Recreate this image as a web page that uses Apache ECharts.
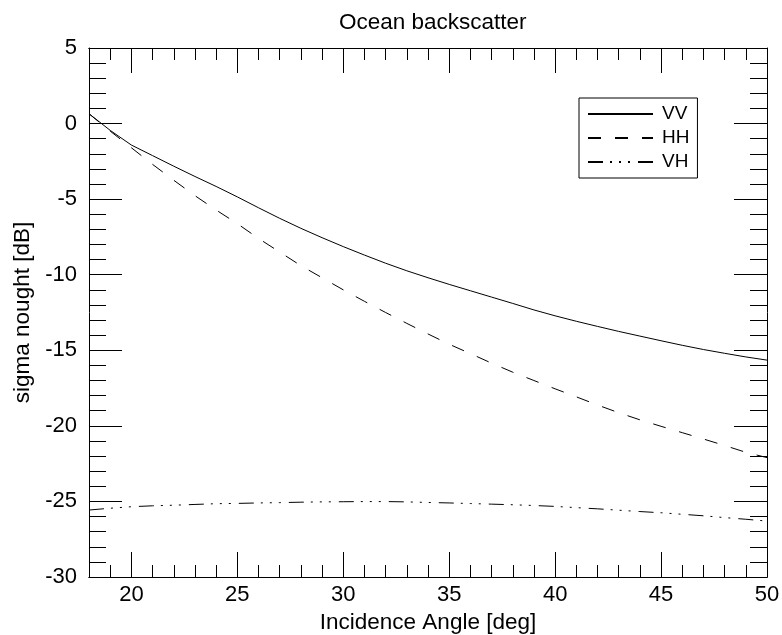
<!DOCTYPE html>
<html>
<head>
<meta charset="utf-8">
<script src="https://cdn.jsdelivr.net/npm/echarts@6/dist/echarts.min.js"></script>
<style>html,body{margin:0;padding:0;background:#fff}#c{width:782px;height:635px}</style>
</head>
<body>
<div id="c"></div>
<script>
const angles = [18,19,20,21,22,23,24,25,26,27,28,29,30,31,32,33,34,35,36,37,38,39,40,41,42,43,44,45,46,47,48,49,50];
const vv = [0.65,-0.45,-1.42,-2.12,-2.82,-3.5,-4.16,-4.85,-5.57,-6.27,-6.93,-7.55,-8.14,-8.7,-9.24,-9.74,-10.2,-10.64,-11.06,-11.48,-11.9,-12.33,-12.72,-13.08,-13.42,-13.75,-14.06,-14.37,-14.67,-14.95,-15.2,-15.44,-15.65];
const hh = [0.65,-0.5,-1.6,-2.7,-3.75,-4.77,-5.72,-6.62,-7.6,-8.5,-9.4,-10.2,-11.0,-11.76,-12.5,-13.22,-13.92,-14.6,-15.22,-15.85,-16.45,-17.0,-17.55,-18.08,-18.62,-19.13,-19.6,-20.03,-20.45,-20.87,-21.3,-21.75,-22.1];
const vh = [-25.57,-25.45,-25.35,-25.29,-25.25,-25.2,-25.15,-25.13,-25.1,-25.08,-25.05,-25.03,-25.02,-25.01,-25.01,-25.03,-25.07,-25.1,-25.14,-25.18,-25.22,-25.27,-25.33,-25.41,-25.49,-25.58,-25.67,-25.75,-25.85,-25.95,-26.07,-26.18,-26.3];
const xMajorTicks = [20,25,30,35,40,45,50];
const seriesNames = ['VV','HH','VH'];
const titleText = 'Ocean backscatter';
const xName = 'Incidence Angle [deg]';
const yName = 'sigma nought [dB]';

const FONT = 'Liberation Sans';
const chart = echarts.init(document.getElementById('c'));
const pair = (ys) => angles.map((a, i) => [a, ys[i]]);
const axisLine = { show: true, onZero: false, lineStyle: { color: '#000', width: 1 } };
function xAx(pos, major, labels) {
  return {
    type: 'value', position: pos, min: 18, max: 50, interval: 1,
    axisLine: axisLine,
    axisTick: major ? { show: true, inside: true, length: 25, customValues: xMajorTicks, lineStyle: { color: '#000' } }
                    : { show: true, inside: true, length: 12, lineStyle: { color: '#000' } },
    axisLabel: labels ? { show: true, customValues: xMajorTicks, margin: 7, color: '#000', fontFamily: FONT, fontSize: 22 } : { show: false },
    splitLine: { show: false },
    name: labels ? xName : '', nameLocation: 'middle', nameGap: 29,
    nameTextStyle: { color: '#000', fontFamily: FONT, fontSize: 22.5 }
  };
}
function yAx(pos, labels) {
  return {
    type: 'value', position: pos, min: -30, max: 5, interval: 5,
    axisLine: axisLine,
    axisTick: { show: true, inside: true, length: 33, lineStyle: { color: '#000' } },
    minorTick: { show: true, splitNumber: 5, length: 17, lineStyle: { color: '#000' } },
    axisLabel: labels ? { show: true, margin: 12, color: '#000', fontFamily: FONT, fontSize: 22 } : { show: false },
    splitLine: { show: false }, minorSplitLine: { show: false },
    name: labels ? yName : '', nameLocation: 'middle', nameGap: 55,
    nameTextStyle: { color: '#000', fontFamily: FONT, fontSize: 22.5 }
  };
}
const lineTypes = ['solid', [13, 14], [15, 7, 2, 7, 2, 7, 2, 8]];
const dataSets = [vv, hh, vh];
chart.setOption({
  animation: false,
  backgroundColor: '#fff',
  title: { text: titleText, left: 334, top: 6, textStyle: { color: '#000', fontFamily: FONT, fontSize: 22.5, fontWeight: 'normal' } },
  grid: { left: 89, top: 48, right: 15, bottom: 58, containLabel: false, outerBoundsMode: 'none' },
  xAxis: [xAx('bottom', false, true), xAx('bottom', true, false), xAx('top', false, false), xAx('top', true, false)],
  yAxis: [yAx('left', true), yAx('right', false)],
  legend: {
    orient: 'vertical', left: 579, top: 98,
    data: seriesNames,
    itemWidth: 65, itemHeight: 14, itemGap: 4,
    padding: [6, 8, 6, 8],
    borderColor: '#000', borderWidth: 1,
    itemStyle: { opacity: 0 },
    textStyle: { color: '#000', fontFamily: FONT, fontSize: 19, lineHeight: 20, padding: [0, 0, 0, 4] }
  },
  series: seriesNames.map((n, i) => ({
    name: n, type: 'line', xAxisIndex: 0, yAxisIndex: 0,
    data: pair(dataSets[i]), symbol: 'none', smooth: false,
    lineStyle: { color: '#000', width: 1, type: lineTypes[i] },
    itemStyle: { color: '#000' }
  }))
});
</script>
</body>
</html>
